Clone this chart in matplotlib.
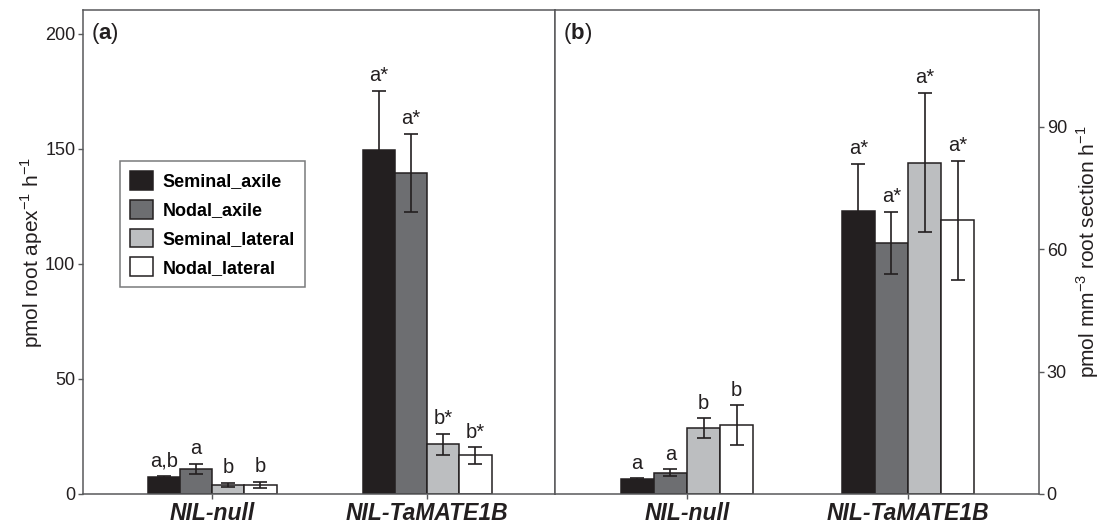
import numpy as np
import matplotlib
matplotlib.use("Agg")
import matplotlib.pyplot as plt

plt.rcParams['font.family'] = ['Liberation Sans', 'DejaVu Sans']
plt.rcParams['mathtext.fontset'] = 'custom'
plt.rcParams['mathtext.rm'] = 'Liberation Sans'
plt.rcParams['mathtext.bf'] = 'Liberation Sans:bold'

genotypes = ["NIL-null", "NIL-TaMATE1B"]
series = ["Seminal_axile", "Nodal_axile", "Seminal_lateral", "Nodal_lateral"]
colors = ["#231f20", "#6d6e71", "#bcbec0", "#ffffff"]

# Panel (a): pmol root apex^-1 h^-1
a_mean = {"Seminal_axile": [7.4, 149.6], "Nodal_axile": [11.0, 139.6],
          "Seminal_lateral": [3.9, 21.6], "Nodal_lateral": [3.9, 16.8]}
a_err = {"Seminal_axile": [0.5, 25.6], "Nodal_axile": [2.2, 17.0],
         "Seminal_lateral": [0.9, 4.5], "Nodal_lateral": [1.3, 3.6]}
a_lab = {"Seminal_axile": ["a,b", "a*"], "Nodal_axile": ["a", "a*"],
         "Seminal_lateral": ["b", "b*"], "Nodal_lateral": ["b", "b*"]}

# Panel (b): pmol mm^-3 root section h^-1
b_mean = {"Seminal_axile": [3.6, 69.3], "Nodal_axile": [5.2, 61.6],
          "Seminal_lateral": [16.1, 81.2], "Nodal_lateral": [16.9, 67.1]}
b_err = {"Seminal_axile": [0.2, 11.6], "Nodal_axile": [0.9, 7.6],
         "Seminal_lateral": [2.5, 17.1], "Nodal_lateral": [4.8, 14.6]}
b_lab = {"Seminal_axile": ["a", "a*"], "Nodal_axile": ["a", "a*"],
         "Seminal_lateral": ["b", "a*"], "Nodal_lateral": ["b", "a*"]}

a_ticks = [0, 50, 100, 150, 200]
b_ticks = [0, 30, 60, 90]

W, H = 1101, 524
fig = plt.figure(figsize=(W / 100, H / 100), dpi=100)
spine_c = "#58595b"
edge_c = "#231f20"
txt_c = "#231f20"

axA = fig.add_axes([83 / W, 30 / H, 472 / W, 484 / H])
axB = fig.add_axes([555 / W, 30 / H, 484 / W, 484 / H])

bw = 0.15
x = np.arange(len(genotypes))


def draw(ax, mean, err, lab):
    for i, s in enumerate(series):
        pos = x + (i - 1.5) * bw
        ax.bar(pos, mean[s], bw, color=colors[i], edgecolor=edge_c, linewidth=1.1,
               label=s, zorder=2)
        ax.errorbar(pos, mean[s], yerr=err[s], fmt='none', ecolor=edge_c,
                    elinewidth=1.2, capsize=5, capthick=1.2, zorder=3)
        for j in range(len(genotypes)):
            ax.annotate(lab[s][j], (pos[j], mean[s][j] + err[s][j]),
                        xytext=(0, 4), textcoords='offset points',
                        ha='center', va='bottom', fontsize=14.5, color=txt_c)
    for sp in ax.spines.values():
        sp.set_color(spine_c)
        sp.set_linewidth(1.1)
    ax.tick_params(axis='both', colors=spine_c, labelcolor=txt_c, length=3.5,
                   labelsize=13, width=1.0, pad=2)
    ax.set_xticks(x)
    ax.set_xticklabels(genotypes, fontsize=16.5, fontweight='bold', fontstyle='italic',
                       color=txt_c)


draw(axA, a_mean, a_err, a_lab)
axA.set_xlim(-0.6, 1.595)
axA.set_ylim(0, 210.4)
axA.set_yticks(a_ticks)
axA.set_ylabel(r"pmol root apex$^{-1}$ h$^{-1}$", fontsize=15, color=txt_c)
axA.yaxis.set_label_coords(-0.08, 0.5)
axA.text(0.017, 0.952, r"($\mathbf{a}$)", transform=axA.transAxes, fontsize=16,
         ha='left', va='center', color=txt_c)
leg = axA.legend(loc='upper left', bbox_to_anchor=(0.0784, 0.688),
                 frameon=True, fancybox=False, edgecolor=spine_c,
                 prop={'weight': 'bold', 'size': 13}, handlelength=1.27,
                 handleheight=1.22, labelspacing=0.52, borderpad=0.55,
                 handletextpad=0.55, borderaxespad=0)
leg.get_frame().set_linewidth(1.1)
for h in leg.legend_handles:
    h.set_edgecolor(edge_c)
    h.set_linewidth(1.1)

draw(axB, b_mean, b_err, b_lab)
axB.set_xlim(-0.597, 1.593)
axB.set_ylim(0, 118.6)
axB.set_yticks(b_ticks)
axB.yaxis.tick_right()
axB.yaxis.set_label_position('right')
axB.set_ylabel(r"pmol mm$^{-3}$ root section h$^{-1}$", fontsize=15, color=txt_c,
               rotation=90)
axB.yaxis.set_label_coords(1.074, 0.5)
axB.text(0.017, 0.952, r"($\mathbf{b}$)", transform=axB.transAxes, fontsize=16,
         ha='left', va='center', color=txt_c)

fig.savefig("out.png", dpi=100)
